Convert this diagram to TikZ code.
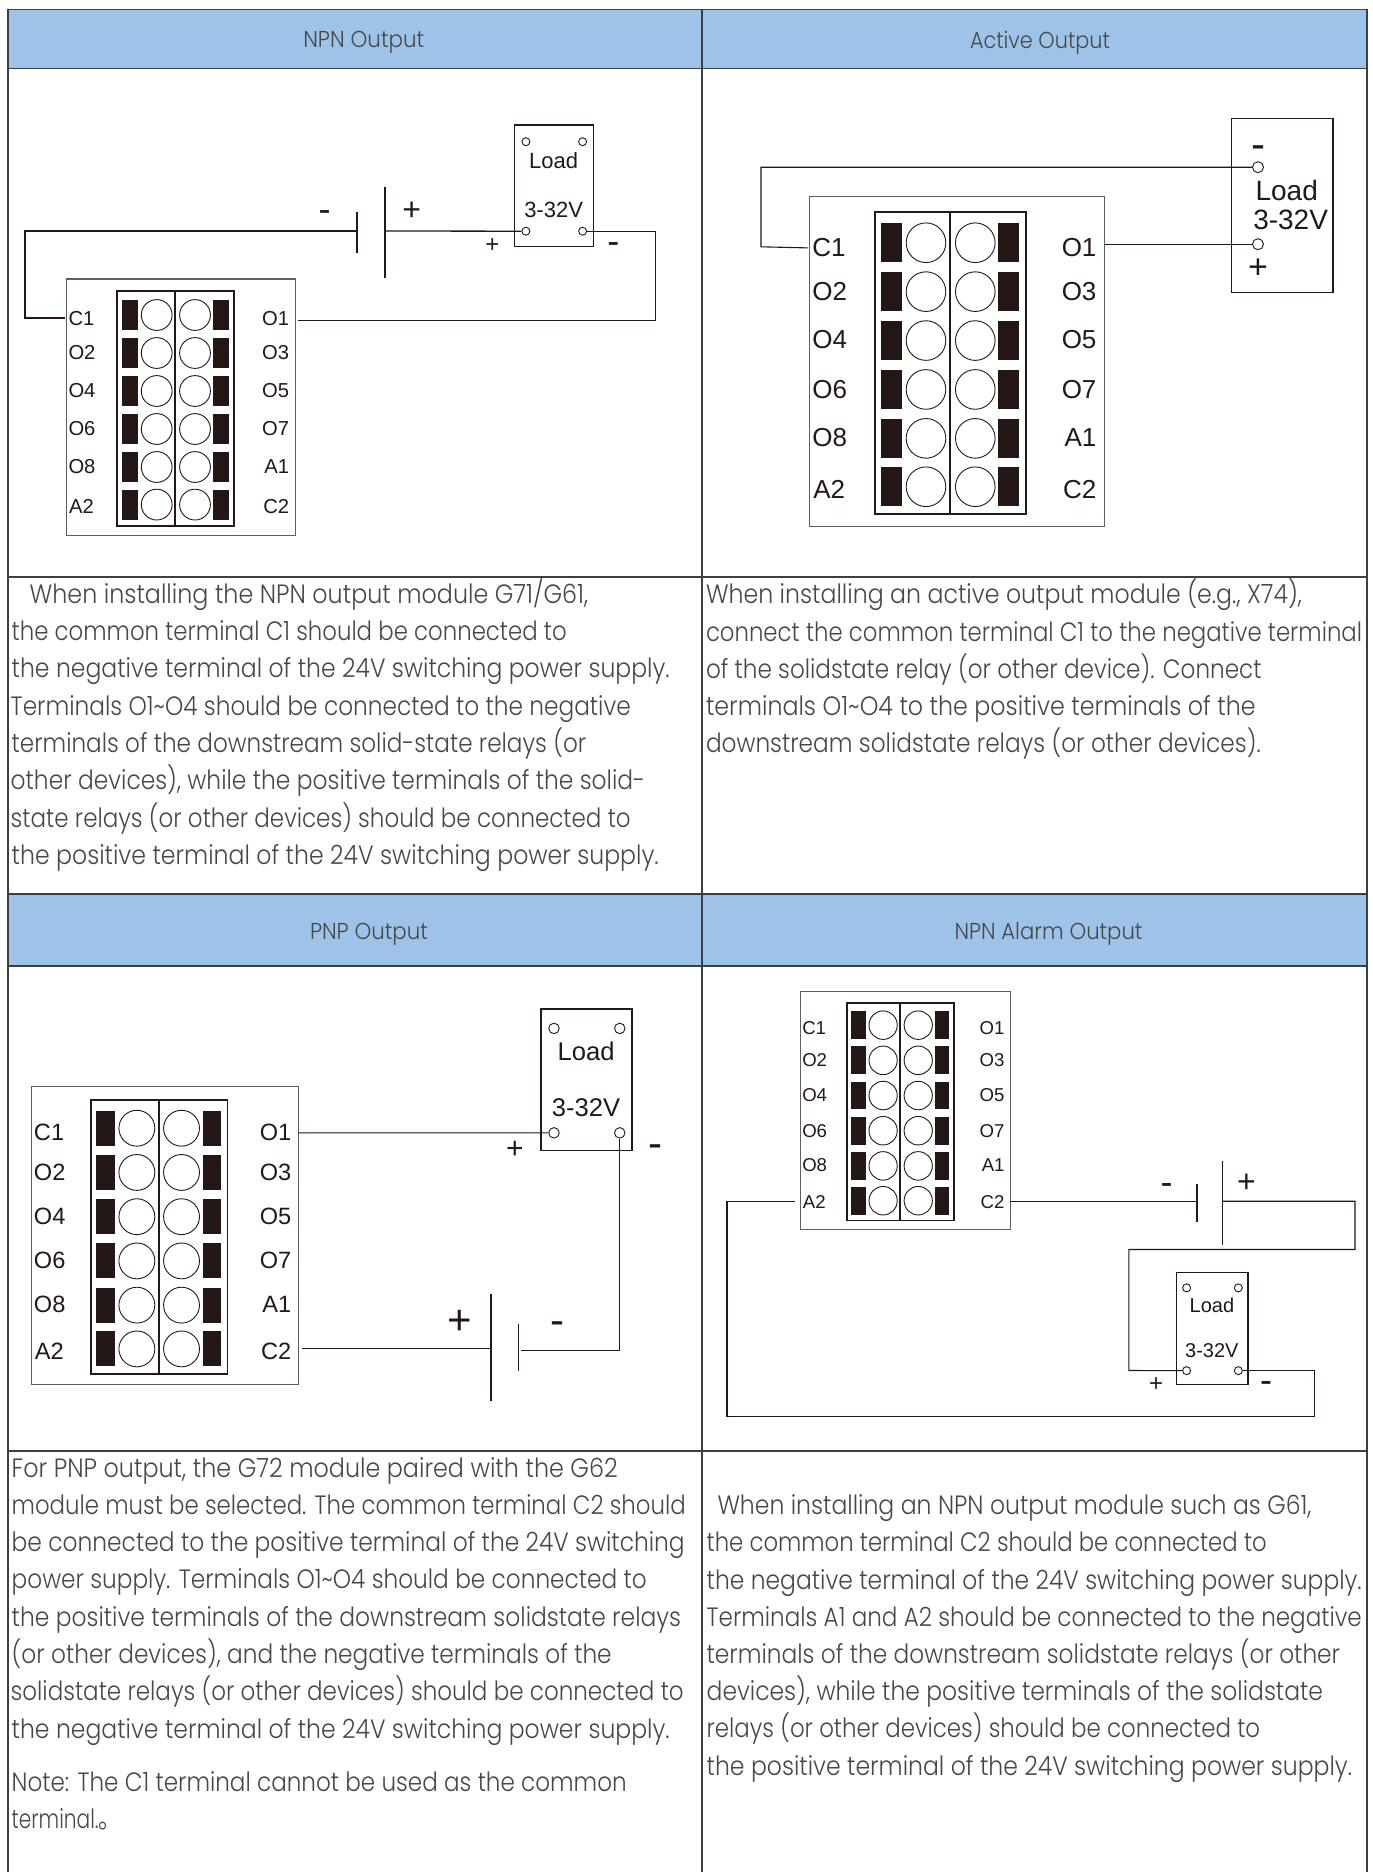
\documentclass[tikz,border=0pt]{standalone}
\usepackage{graphicx}
\usepackage{fontspec}
\setmainfont{Liberation Sans}
\newfontfamily\bodyfont[FakeStretch=0.87]{Poppins Light}
\newfontfamily\cjkfont{Noto Sans CJK SC}
\definecolor{headblue}{HTML}{9FC3E8}
\definecolor{rule}{HTML}{3C3F42}
\definecolor{ink}{HTML}{231815}
\definecolor{bodyink}{HTML}{45484B}
\tikzset{
  gridline/.style={draw=rule,line width=1.8pt},
  outerbox/.style={draw=ink!70,line width=1.1pt},
  stripbox/.style={draw=ink,line width=1.9pt},
  wire/.style={draw=ink,line width=1.3pt},
  plate/.style={draw=ink,line width=1.3pt},
  blk/.style={fill=ink,draw=none},
  hole/.style={draw=ink,line width=0.9pt,fill=white},
  term/.style={circle,draw=ink,line width=0.9pt,fill=white,inner sep=0pt,minimum size=#1},
  lab/.style={inner sep=0pt,text=ink,font=\fontsize{#1}{#1}\selectfont},
  sign/.style={inner sep=0pt,text=ink,font=\fontsize{#1}{#1}\selectfont},
  headtext/.style={inner sep=0pt,text=bodyink,font=\bodyfont\fontsize{23}{23}\selectfont},
  bodytext/.style={inner sep=0pt,text=bodyink,anchor=base west,yshift=-1pt,font=\bodyfont\fontsize{26.5}{26.5}\selectfont},
}
\newcommand{\rowlabel}[5]{%
  \node[lab=\labsize,anchor=#5] (#1#2) at (#4,#3) {#2};}
\newcommand{\module}[6]{% name x y sx sy fontsize
  \def\labsize{#6}
  \begin{scope}[shift={(#2,#3)},xscale=#4,yscale=#5]
    \path[outerbox] (0,0) rectangle (229,256.3);
    \path[stripbox] (50.5,12) rectangle (167.9,247) (108.9,12) -- (108.9,247);
    \foreach \yy in {36,74,112,150,188,225.6}{
      \fill[blk] (55.4,\yy-15) rectangle (71.5,\yy+15);
      \fill[blk] (146.5,\yy-15) rectangle (162.5,\yy+15);
      \path[hole] (90.2,\yy) circle (15.4);
      \path[hole] (128.5,\yy) circle (15.4);
    }
    \rowlabel{#1}{C1}{46.5}{1.8}{base west}
    \rowlabel{#1}{O2}{80.6}{1.8}{base west}
    \rowlabel{#1}{O4}{118.3}{1.8}{base west}
    \rowlabel{#1}{O6}{156.8}{1.8}{base west}
    \rowlabel{#1}{O8}{194}{1.8}{base west}
    \rowlabel{#1}{A2}{234.5}{2.5}{base west}
    \rowlabel{#1}{O1}{46.5}{222.8}{base east}
    \rowlabel{#1}{O3}{80.6}{222.8}{base east}
    \rowlabel{#1}{O5}{118.3}{222.8}{base east}
    \rowlabel{#1}{O7}{156.8}{222.8}{base east}
    \rowlabel{#1}{A1}{194}{222.8}{base east}
    \rowlabel{#1}{C2}{234.5}{222.8}{base east}
  \end{scope}}
\newcommand{\loadbox}[7]{% name x y sx sy fontsize termsize
  \begin{scope}[shift={(#2,#3)},xscale=#4,yscale=#5]
    \path[outerbox,draw=ink,line width=1.5pt] (0,0) rectangle (78.6,121.4);
    \node[term=#7] (#1tl) at (11.2,16.7) {};
    \node[term=#7] (#1tr) at (67.9,16.7) {};
    \node[term=#7] (#1bl) at (11.2,106.2) {};
    \node[term=#7] (#1br) at (67.9,106.2) {};
    \node[lab=#6] (#1load) at (38.9,36) {Load};
    \node[lab=#6] (#1volt) at (38.9,84.5) {3-32V};
  \end{scope}}
% name, x, baseline y, width, text
\newcommand{\bl}[5]{\node[bodytext] (#1) at (#2,#3) {\resizebox{#4pt}{\height}{#5}};}
\newcommand{\hd}[5]{\node[headtext] (#1) at (#2,#3) {\resizebox{#4pt}{\height}{#5}};}
\begin{document}
\begin{tikzpicture}[x=1pt,y=-1pt]
\useasboundingbox (0,0) rectangle (1373,1872);
\fill[white] (0,0) rectangle (1373,1872);
% table
\fill[headblue] (7.6,9.5) rectangle (1367,68.5);
\fill[headblue] (7.6,894) rectangle (1367,966);
\path[gridline] (7.6,1872) -- (7.6,9.5) -- (1367,9.5) -- (1367,1872);
\path[gridline] (702,9.5) -- (702,1872);
\path[gridline] (7.6,68.5) -- (1367,68.5);
\path[gridline] (7.6,577) -- (1367,577);
\path[gridline] (7.6,894) -- (1367,894);
\path[gridline] (7.6,966) -- (1367,966);
\path[gridline] (7.6,1451) -- (1367,1451);
% headers
\hd{h1}{363.8}{42.5}{121}{NPN Output}
\hd{h2}{1040}{42.5}{140}{Active Output}
\hd{h3}{369}{934}{118}{PNP Output}
\hd{h4}{1048.5}{934}{188}{NPN Alarm Output}

% Diagram 1
\module{a}{66.5}{279}{1}{1}{20.2}
\loadbox{al}{514.7}{125}{1}{1}{22}{8}
\coordinate (a1) at (64.7,318);
\coordinate (a2) at (298,320.8);
\coordinate (am) at (357,231);
\coordinate (ap) at (385,231);
\path[plate] (357,211.6) -- (am) -- (357,252.7);
\path[plate] (385,186.5) -- (ap) -- (385,277.8);
\path[wire] (a1) -| (25,231) -- (am);
\path[wire] (ap) -- (albl);
\path[wire] (albr) -| (655.4,320.8) -- (a2);
\node[sign=36] (as1) at (324.6,216) {-};
\node[sign=32] (as2) at (411.6,211) {+};
\node[sign=24] (as3) at (492.4,246) {+};
\node[sign=36] (as4) at (613.4,248) {-};

% Diagram 2
\module{b}{809.9}{196.4}{1.287}{1.287}{26}
\coordinate (b1) at (808,247.9);
\coordinate (b2) at (1104.7,244.2);
\path[outerbox,draw=ink,line width=1.3pt] (1231.8,118.4) rectangle (1333,292.3);
\node[term=11] (bt) at (1258,167.2) {};
\node[term=11] (bb) at (1258,244.2) {};
\node[lab=28,anchor=center] (bload) at (1286.7,190.5) {Load};
\node[lab=28,anchor=center] (bvolt) at (1290.6,220) {3-32V};
\node[sign=42] (bs1) at (1258,152) {-};
\node[sign=34] (bs2) at (1258,268.2) {+};
\path[wire,line width=1.1pt] (b1) -- (761,246.8) |- (bt);
\path[wire,line width=1.1pt] (b2) -- (bb);

% Diagram 3
\module{c}{31.7}{1086.3}{1.166}{1.164}{23.6}
\loadbox{cl}{541}{1008.9}{1.16}{1.167}{25.6}{10.5}
\coordinate (c1) at (298.7,1132.8);
\coordinate (c2) at (301.8,1348.7);
\coordinate (cp) at (491,1348.7);
\coordinate (cm) at (520.5,1350.6);
\path[plate] (491,1294.2) -- (cp) -- (491,1400.7);
\path[plate] (518.8,1324) -- (518.8,1371);
\path[wire,line width=1.1pt] (c1) -- (clbl);
\path[wire,line width=1.1pt] (c2) -- (cp);
\path[wire,line width=1.1pt] (cm) -| (clbr);
\node[sign=42] (cs1) at (459.4,1322.6) {+};
\node[sign=42] (cs2) at (557,1328) {-};
\node[sign=30] (cs3) at (515,1150) {+};
\node[sign=42] (cs4) at (655.4,1151.5) {-};

% Diagram 4
\module{d}{800.4}{991.8}{0.917}{0.926}{18.6}
\loadbox{dl}{1176.4}{1272.4}{0.912}{0.925}{20}{8}
\coordinate (d1) at (1010.3,1201.2);
\coordinate (d2) at (794.8,1201.2);
\coordinate (dm) at (1197,1201.2);
\coordinate (dp) at (1222.3,1201.2);
\path[plate] (1197,1184.4) -- (dm) -- (1197,1221.5);
\path[plate] (1222.3,1160.8) -- (dp) -- (1222.3,1244.8);
\path[wire,line width=1.1pt] (d1) -- (dm);
\path[wire,line width=1.1pt] (dp) -| (1355,1249.5) -| (1128.8,1370.5) -- (dlbl);
\path[wire,line width=1.1pt] (dlbr) -| (1314.6,1416.4) -| (727,1201.2) -- (d2);
\node[sign=36] (ds1) at (1166.5,1189) {-};
\node[sign=32] (ds2) at (1246.4,1183) {+};
\node[sign=24] (ds3) at (1156.2,1384.4) {+};
\node[sign=36] (ds4) at (1266,1386.5) {-};

% Body text
\bl{t1}{29.5}{602}{558.5}{When installing the NPN output module G71/G61,}
\bl{t2}{11.5}{639}{555}{the common terminal C1 should be connected to}
\bl{t3}{11.5}{676.7}{658}{the negative terminal of the 24V switching power supply.}
\bl{t4}{10.5}{714}{620}{Terminals O1\char`\~O4 should be connected to the negative}
\bl{t5}{11.5}{751}{574.5}{terminals of the downstream solid-state relays (or}
\bl{t6}{10.5}{788.7}{634.5}{other devices), while the positive terminals of the solid-}
\bl{t7}{10.5}{826}{620}{state relays (or other devices) should be connected to}
\bl{t8}{11.5}{863.7}{647}{the positive terminal of the 24V switching power supply.}

\bl{u1}{705.8}{602}{596}{When installing an active output module (e.g., X74),}
\bl{u2}{705.8}{640}{656}{connect the common terminal C1 to the negative terminal}
\bl{u3}{705.8}{677}{555.6}{of the solidstate relay (or other device). Connect}
\bl{u4}{705.8}{714}{549.6}{terminals O1\char`\~O4 to the positive terminals of the}
\bl{u5}{705.8}{751.3}{554.7}{downstream solidstate relays (or other devices).}

\bl{v1}{11.5}{1476}{606}{For PNP output, the G72 module paired with the G62}
\bl{v2}{11.5}{1513.2}{674}{module must be selected. The common terminal C2 should}
\bl{v3}{11.5}{1550.5}{673}{be connected to the positive terminal of the 24V switching}
\bl{v4}{11.5}{1587.8}{635}{power supply. Terminals O1\char`\~O4 should be connected to}
\bl{v5}{11.5}{1625}{669.4}{the positive terminals of the downstream solidstate relays}
\bl{v6}{11.5}{1662.3}{600}{(or other devices), and the negative terminals of the}
\bl{v7}{10.5}{1699.6}{673}{solidstate relays (or other devices) should be connected to}
\bl{v8}{11.5}{1737}{658}{the negative terminal of the 24V switching power supply.}
\bl{v9}{11.5}{1790.7}{615}{Note: The C1 terminal cannot be used as the common}
\bl{v10}{11.5}{1827.3}{110}{terminal.{\cjkfont 。}}

\bl{w1}{717.3}{1513.3}{594}{When installing an NPN output module such as G61,}
\bl{w2}{706.5}{1550.3}{560}{the common terminal C2 should be connected to}
\bl{w3}{706.5}{1588}{655}{the negative terminal of the 24V switching power supply.}
\bl{w4}{706.5}{1625}{655}{Terminals A1 and A2 should be connected to the negative}
\bl{w5}{706.5}{1662}{633.4}{terminals of the downstream solidstate relays (or other}
\bl{w6}{706.5}{1699.3}{616.3}{devices), while the positive terminals of the solidstate}
\bl{w7}{706.5}{1736.7}{553.4}{relays (or other devices) should be connected to}
\bl{w8}{706.5}{1774}{645.4}{the positive terminal of the 24V switching power supply.}
\end{tikzpicture}
\end{document}
